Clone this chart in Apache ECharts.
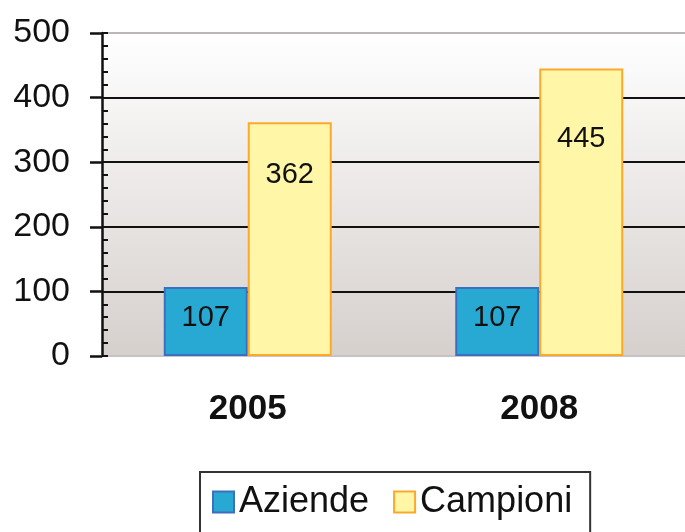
<!DOCTYPE html>
<html>
<head>
<meta charset="utf-8">
<script src="https://cdn.jsdelivr.net/npm/echarts@6/dist/echarts.min.js"></script>
<style>
html,body{margin:0;padding:0;background:#fff;}
#chart{width:685px;height:532px;}
</style>
</head>
<body>
<div id="chart"></div>
<script>
// ---- data ----
const categories = ['2005', '2008'];
const seriesNames = ['Aziende', 'Campioni'];
const aziende = [107, 107];
const campioni = [362, 445];
const yTicks = [0, 100, 200, 300, 400, 500];

// ---- style constants ----
const labelDistance = { Aziende: [17, 17], Campioni: [38, 56] };
const FONT = 'Liberation Sans, Arial, sans-serif';

const chart = echarts.init(document.getElementById('chart'), null, { renderer: 'canvas' });

function makeData(values, name) {
  return values.map((v, i) => ({
    value: v,
    label: { distance: labelDistance[name][i] }
  }));
}

const splitColors = yTicks.map((t, i) => (i === 0 ? '#c8c4c8' : (i === yTicks.length - 1 ? '#bdb6b6' : '#111')));

const option = {
  animation: false,
  backgroundColor: '#ffffff',
  textStyle: { fontFamily: FONT },
  grid: {
    left: 102, top: 33, width: 586, height: 323,
    show: true,
    borderWidth: 0,
    backgroundColor: {
      type: 'linear', x: 0, y: 0, x2: 0, y2: 1,
      colorStops: [
        { offset: 0, color: '#ffffff' },
        { offset: 1, color: '#d6d0cd' }
      ]
    },
    containLabel: false
  },
  legend: {
    left: 200, top: 472,
    data: seriesNames,
    icon: 'rect',
    itemWidth: 21, itemHeight: 21,
    itemGap: 24,
    padding: [10, 18, 24, 12],
    borderColor: '#333', borderWidth: 2,
    textStyle: { fontSize: 36, fontFamily: FONT, color: '#111', lineHeight: 40 }
  },
  xAxis: {
    type: 'category',
    data: categories,
    axisLine: { show: true, lineStyle: { color: '#c6c2ca', width: 2 } },
    axisTick: { show: false },
    axisLabel: { fontSize: 35, fontWeight: 'bold', color: '#111', margin: 36, fontFamily: FONT },
    splitLine: { show: false }
  },
  yAxis: [
    {
      type: 'value', min: yTicks[0], max: yTicks[yTicks.length - 1], interval: 100,
      axisLine: { show: true, lineStyle: { color: '#111', width: 2.5 } },
      axisTick: { show: true, inside: true, length: 6, lineStyle: { color: '#111', width: 2 } },
      minorTick: { show: true, splitNumber: 5, length: 6, lineStyle: { color: '#111', width: 2 } },
      axisLabel: { fontSize: 34, color: '#111', margin: 32, fontFamily: FONT },
      splitLine: { show: true, lineStyle: { color: splitColors, width: 2 } }
    },
    {
      type: 'value', min: yTicks[0], max: yTicks[yTicks.length - 1], interval: 100,
      position: 'left',
      axisLine: { show: false },
      axisTick: { show: true, inside: false, length: 12, lineStyle: { color: '#111', width: 2.5 } },
      axisLabel: { show: false },
      splitLine: { show: false }
    }
  ],
  series: [
    {
      name: seriesNames[0], type: 'bar', barWidth: 84, barGap: '0%',
      data: makeData(aziende, 'Aziende'),
      itemStyle: { color: '#27a9d3', borderColor: '#3d6fc0', borderWidth: 2 },
      label: { show: true, position: 'insideTop', fontSize: 29, color: '#111', fontFamily: FONT }
    },
    {
      name: seriesNames[1], type: 'bar', barWidth: 84, barGap: '0%',
      data: makeData(campioni, 'Campioni'),
      itemStyle: { color: '#fff6a8', borderColor: '#fba92a', borderWidth: 2 },
      label: { show: true, position: 'insideTop', fontSize: 29, color: '#111', fontFamily: FONT }
    }
  ]
};
chart.setOption(option);
</script>
</body>
</html>
